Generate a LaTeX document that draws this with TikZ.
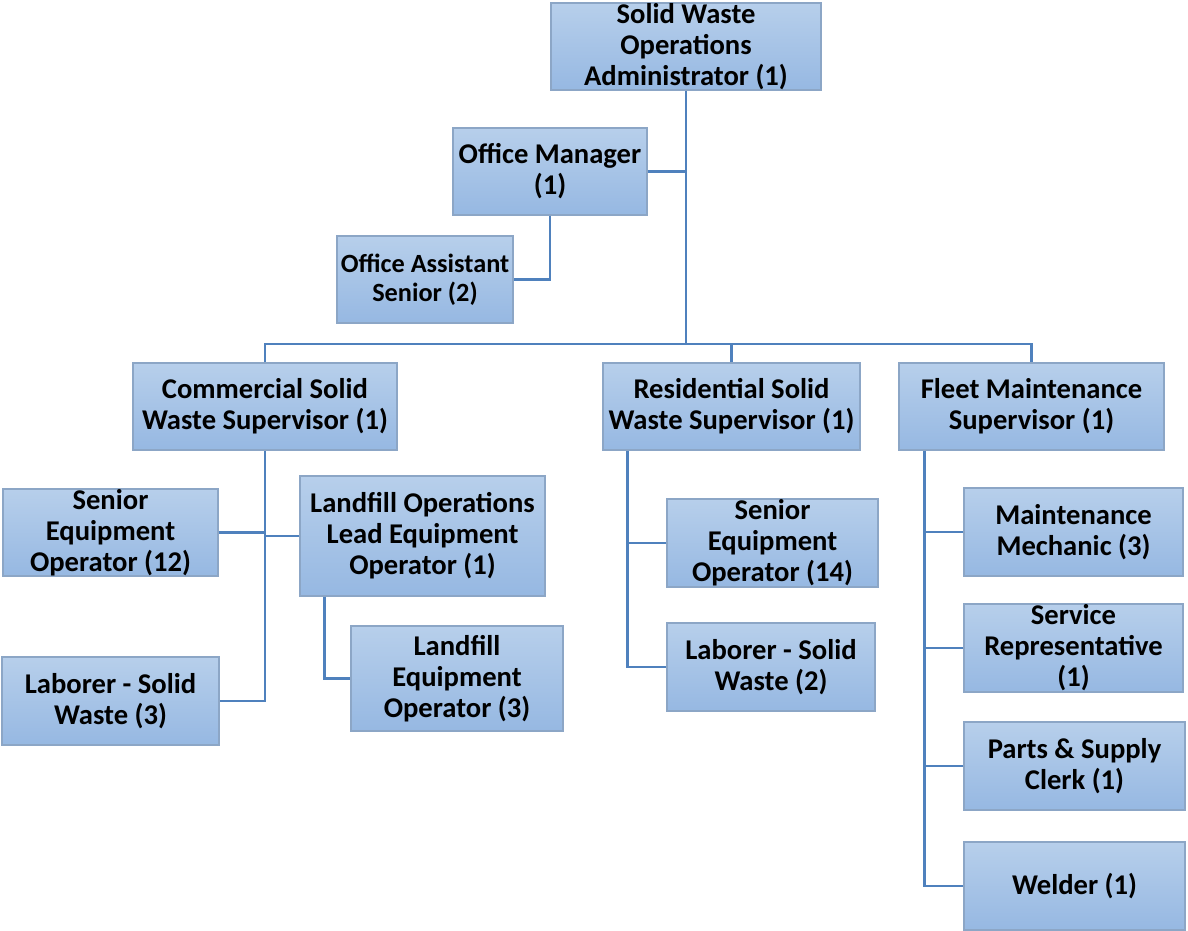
\documentclass[tikz,border=0pt]{standalone}
\usepackage{fontspec}
\setmainfont{Carlito}
\usetikzlibrary{calc}
\definecolor{boxtop}{HTML}{B7CFEB}
\definecolor{boxbot}{HTML}{96B8E2}
\definecolor{boxedge}{HTML}{8CA6C6}
\definecolor{linkc}{HTML}{4F81BD}
\tikzset{
  box/.style={draw=boxedge, line width=1.2pt, top color=boxtop, bottom color=boxbot,
    inner sep=0pt, align=center, font=\bfseries\fontsize{28.6}{31}\selectfont},
  link/.style={draw=linkc, line width=2.2pt}
}
\begin{document}
\begin{tikzpicture}[x=1pt,y=-1pt]
\useasboundingbox (0,0) rectangle (1188,931);
\node[box, minimum width=270, minimum height=87] (admin) at (686,46.5) {Solid Waste\\Operations\\Administrator (1)};
\node[box, minimum width=194, minimum height=87] (om) at (550,171.5) {Office Manager\\(1)};
\node[box, minimum width=176, minimum height=87, font=\bfseries\fontsize{26.3}{29}\selectfont] (oa) at (425,279.5) {Office Assistant\\Senior (2)};
\node[box, minimum width=264, minimum height=87] (com) at (265,406.5) {Commercial Solid\\Waste Supervisor (1)};
\node[box, minimum width=257, minimum height=87] (res) at (731.5,406.5) {Residential Solid\\Waste Supervisor (1)};
\node[box, minimum width=265, minimum height=87] (fleet) at (1031.5,406.5) {Fleet Maintenance\\Supervisor (1)};
\node[box, minimum width=215, minimum height=87] (se12) at (110.5,532.5) {Senior\\Equipment\\Operator (12)};
\node[box, minimum width=245, minimum height=120] (lead) at (422.5,536) {Landfill Operations\\Lead Equipment\\Operator (1)};
\node[box, minimum width=217, minimum height=88] (lab3) at (110.5,701) {Laborer - Solid\\Waste (3)};
\node[box, minimum width=212, minimum height=105] (leq) at (457,678.5) {Landfill\\Equipment\\Operator (3)};
\node[box, minimum width=211, minimum height=88] (se14) at (772.5,543) {Senior\\Equipment\\Operator (14)};
\node[box, minimum width=208, minimum height=88] (lab2) at (771,667) {Laborer - Solid\\Waste (2)};
\node[box, minimum width=219, minimum height=88] (mm) at (1073.5,532) {Maintenance\\Mechanic (3)};
\node[box, minimum width=219, minimum height=88] (sr) at (1073.5,648) {Service\\Representative\\(1)};
\node[box, minimum width=221, minimum height=88] (ps) at (1074.5,766) {Parts \& Supply\\Clerk (1)};
\node[box, minimum width=221, minimum height=88] (wel) at (1074.5,886) {Welder (1)};
\coordinate (bus) at (686,344);
\coordinate (lx) at ($(lead.south west)+(25,0)$);
\coordinate (rx) at ($(res.south west)+(25,0)$);
\coordinate (fx) at ($(fleet.south west)+(26,0)$);
% top
\draw[link] (admin.south) -- (admin.south |- bus);
\draw[link] (om.east) -- (om.east -| admin.south);
\draw[link] (om.south) |- (oa.east);
\draw[link] (com.north) |- (fleet.north |- bus) -- (fleet.north);
\draw[link] (res.north) -- (res.north |- bus);
% commercial
\draw[link] (com.south) |- (lab3.east);
\draw[link] (se12.east) -- (se12.east -| com.south);
\draw[link] (lead.west) -- (lead.west -| com.south);
\draw[link] (lx) |- (leq.west);
% residential
\draw[link] (rx) |- (lab2.west);
\draw[link] (se14.west) -- (se14.west -| rx);
% fleet
\draw[link] (fx) |- (wel.west);
\draw[link] (mm.west) -- (mm.west -| fx);
\draw[link] (sr.west) -- (sr.west -| fx);
\draw[link] (ps.west) -- (ps.west -| fx);
\end{tikzpicture}
\end{document}
